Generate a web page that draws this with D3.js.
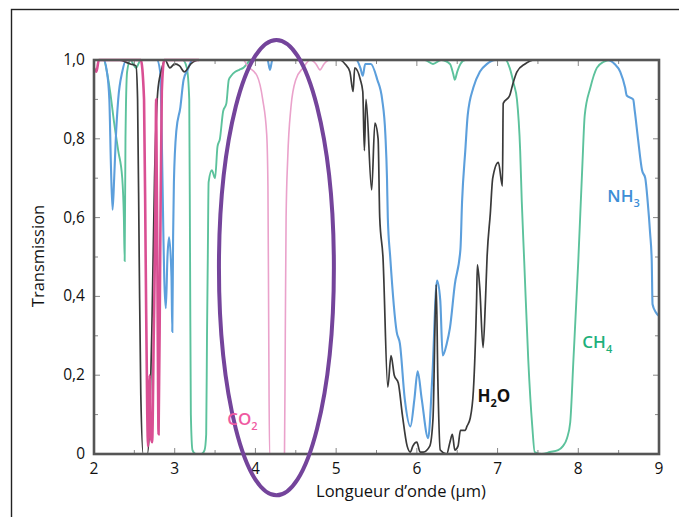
<!DOCTYPE html>
<html>
<head>
<meta charset="utf-8">
<script src="https://cdn.jsdelivr.net/npm/d3@7"></script>
<style>
  body { margin: 0; background: #fff; }
  svg text { font-family: "Open Sans", "Noto Sans", sans-serif; }
</style>
</head>
<body>
<svg id="chart" width="679" height="517"></svg>
<script>
// wavelength (µm), transmission
var h2o = [
  [2.0, 1.0], [2.3, 1.0], [2.45, 0.99], [2.52, 0.985], [2.54, 0.9], [2.56, 0.5], [2.58, 0.15],
  [2.61, 0.0], [2.66, 0.0], [2.69, 0.08], [2.72, 0.35], [2.75, 0.7], [2.79, 0.92], [2.83, 0.97],
  [2.88, 1.0], [2.94, 0.98], [3.0, 0.99], [3.06, 0.985], [3.12, 0.97], [3.2, 0.99], [3.3, 1.0],
  [5.05, 1.0], [5.11, 0.99], [5.17, 0.97], [5.21, 0.92], [5.23, 0.98], [5.3, 0.95], [5.33, 0.92],
  [5.35, 0.77], [5.37, 0.9], [5.44, 0.67], [5.48, 0.84], [5.52, 0.8], [5.54, 0.6], [5.58, 0.5],
  [5.64, 0.17], [5.68, 0.25], [5.72, 0.2], [5.77, 0.18], [5.82, 0.1], [5.88, 0.02], [5.92, 0.005],
  [5.95, 0.02], [6.0, 0.03], [6.04, 0.005], [6.08, 0.005], [6.16, 0.02], [6.2, 0.09], [6.24, 0.43],
  [6.26, 0.19], [6.29, 0.01], [6.37, 0.0], [6.41, 0.03], [6.44, 0.05], [6.47, 0.01], [6.51, 0.02],
  [6.54, 0.06], [6.6, 0.06], [6.62, 0.07], [6.66, 0.09], [6.7, 0.16], [6.74, 0.39], [6.75, 0.48],
  [6.78, 0.42], [6.82, 0.27], [6.85, 0.39], [6.87, 0.5], [6.91, 0.61], [6.94, 0.7], [7.01, 0.74],
  [7.06, 0.68], [7.07, 0.89], [7.15, 0.91], [7.19, 0.94], [7.24, 0.97], [7.34, 0.99], [7.46, 1.0],
  [9.0, 1.0]
];

var co2 = [
  [2.0, 0.98], [2.03, 0.97], [2.06, 1.0], [2.58, 1.0], [2.62, 0.9], [2.64, 0.5], [2.66, 0.1],
  [2.67, 0.02], [2.69, 0.2], [2.7, 0.05], [2.72, 0.03], [2.74, 0.3], [2.76, 0.6], [2.77, 0.9],
  [2.79, 0.3], [2.8, 0.05], [2.82, 0.5], [2.84, 0.92], [2.87, 1.0], [3.3, 1.0],
  [3.85, 1.0], [3.9, 0.985], [4.02, 0.96], [4.09, 0.9], [4.14, 0.81], [4.155, 0.68], [4.165, 0.3],
  [4.175, 0.0], [4.36, 0.0], [4.37, 0.3], [4.38, 0.6], [4.4, 0.75], [4.44, 0.88], [4.5, 0.95],
  [4.59, 0.98], [4.68, 1.0], [4.75, 0.99], [4.8, 0.975], [4.85, 0.99], [4.92, 1.0], [9.0, 1.0]
];

var ch4 = [
  [2.0, 1.0], [2.12, 1.0], [2.16, 0.97], [2.2, 0.92], [2.25, 0.84], [2.3, 0.77], [2.35, 0.7],
  [2.37, 0.6], [2.38, 0.49], [2.39, 0.8], [2.41, 0.97], [2.45, 1.0], [2.52, 0.98], [2.58, 1.0],
  [3.1, 1.0], [3.15, 0.98], [3.18, 0.9], [3.19, 0.5], [3.2, 0.1], [3.22, 0.01], [3.26, 0.0],
  [3.33, 0.0], [3.37, 0.01], [3.39, 0.05], [3.4, 0.3], [3.41, 0.5], [3.42, 0.69], [3.46, 0.72],
  [3.5, 0.7], [3.53, 0.78], [3.56, 0.8], [3.6, 0.87], [3.64, 0.89], [3.67, 0.95], [3.7, 0.96],
  [3.75, 0.97], [3.8, 0.975], [3.85, 0.98], [3.95, 1.0], [6.1, 1.0], [6.2, 0.99], [6.3, 1.0],
  [6.41, 0.99], [6.45, 0.965], [6.47, 0.95], [6.5, 0.97], [6.54, 0.99], [6.6, 1.0],
  [7.1, 1.0], [7.15, 0.98], [7.2, 0.94], [7.24, 0.9], [7.28, 0.77], [7.3, 0.64], [7.33, 0.49],
  [7.38, 0.24], [7.43, 0.07], [7.46, 0.005], [7.55, 0.0], [7.65, 0.005], [7.75, 0.01], [7.81, 0.02],
  [7.86, 0.04], [7.9, 0.08], [7.94, 0.24], [8.0, 0.49], [8.05, 0.73], [8.08, 0.86], [8.15, 0.93],
  [8.23, 0.98], [8.31, 0.995], [8.4, 1.0], [9.0, 1.0]
];

var nh3 = [
  [2.0, 1.0], [2.12, 1.0], [2.16, 0.97], [2.19, 0.9], [2.21, 0.73], [2.23, 0.62], [2.25, 0.7],
  [2.27, 0.8], [2.3, 0.9], [2.35, 0.97], [2.4, 1.0], [2.78, 1.0], [2.82, 0.97], [2.84, 0.8],
  [2.86, 0.55], [2.87, 0.45], [2.89, 0.37], [2.91, 0.5], [2.93, 0.55], [2.96, 0.45], [2.97, 0.31],
  [2.98, 0.55], [2.99, 0.69], [3.02, 0.82], [3.07, 0.88], [3.11, 0.95], [3.16, 0.975], [3.22, 1.0],
  [4.15, 1.0], [4.18, 0.975], [4.21, 1.0], [5.25, 1.0], [5.3, 0.98], [5.33, 0.96], [5.36, 0.99],
  [5.43, 0.99], [5.51, 0.95], [5.57, 0.9], [5.61, 0.81], [5.63, 0.7], [5.64, 0.6], [5.67, 0.5],
  [5.75, 0.31], [5.79, 0.28], [5.85, 0.14], [5.92, 0.07], [5.97, 0.14], [6.01, 0.21], [6.06, 0.14],
  [6.14, 0.04], [6.19, 0.19], [6.25, 0.44], [6.29, 0.39], [6.32, 0.25], [6.37, 0.28], [6.41, 0.32],
  [6.47, 0.43], [6.54, 0.52], [6.56, 0.64], [6.6, 0.77], [6.63, 0.86], [6.7, 0.93], [6.78, 0.97],
  [6.87, 0.99], [6.97, 1.0], [8.36, 1.0], [8.45, 0.99], [8.52, 0.97], [8.58, 0.93], [8.6, 0.91],
  [8.68, 0.9], [8.7, 0.87], [8.74, 0.8], [8.79, 0.72], [8.83, 0.7], [8.86, 0.64], [8.89, 0.56],
  [8.91, 0.49], [8.92, 0.38], [8.96, 0.36], [9.0, 0.35]
];

var xTicks = [2, 3, 4, 5, 6, 7, 8, 9];
var yTicks = [0, 0.2, 0.4, 0.6, 0.8, 1.0];
var yTickLabels = ["0", "0,2", "0,4", "0,6", "0,8", "1,0"];

// gas labels: name, subscript, wavelength, transmission
var gasLabels = [
  ["NH", "3", 8.36, 0.64, "#3d8ed6", 600],
  ["CH", "4", 8.05, 0.27, "#1db07b", 600],
  ["H", "2", 6.75, 0.132, "#111", 700, "O"],
  ["CO", "2", 3.65, 0.074, "#ef5aa1", 600]
];

// highlight ellipse around the CO2 band (centre and radii in data units)
var ring = { cx: 4.26, cy: 0.473, rx: 0.712, ry: 0.578 };

var svg = d3.select("#chart");

var x = d3.scaleLinear().domain([2, 9]).range([94, 659]);
var y = d3.scaleLinear().domain([0, 1]).range([454, 60]);

// outer frame
svg.append("rect")
  .attr("x", 11.5).attr("y", 9.5)
  .attr("width", 700).attr("height", 600)
  .attr("fill", "none").attr("stroke", "#222").attr("stroke-width", 1.4);

var line = d3.line()
  .x(function (d) { return x(d[0]); })
  .y(function (d) { return y(d[1]); })
  .curve(d3.curveMonotoneX);

var plot = svg.append("g");

plot.append("path").datum(ch4)
  .attr("fill", "none").attr("stroke", "#5cc29c").attr("stroke-width", 1.9).attr("d", line);

plot.append("path").datum(co2.filter(function (d) { return d[0] >= 3.3; }))
  .attr("fill", "none").attr("stroke", "#eaa2cb").attr("stroke-width", 1.6).attr("d", line);

plot.append("path").datum(nh3)
  .attr("fill", "none").attr("stroke", "#5c9fdc").attr("stroke-width", 2.1).attr("d", line);

plot.append("path").datum(h2o)
  .attr("fill", "none").attr("stroke", "#3a3a3a").attr("stroke-width", 1.7).attr("d", line);

plot.append("path").datum(co2.filter(function (d) { return d[0] <= 3.3; }))
  .attr("fill", "none").attr("stroke", "#d94f93").attr("stroke-width", 2.6).attr("d", line);

// ticks inside the frame
var minorX = d3.range(2, 9.01, 0.5);
var minorY = d3.range(0, 1.001, 0.1);
var tk = svg.append("g").attr("stroke", "#888").attr("stroke-width", 1);

minorX.forEach(function (v) {
  var len = Math.abs(v - Math.round(v)) < 0.01 ? 6 : 4;
  tk.append("line").attr("x1", x(v)).attr("x2", x(v)).attr("y1", y(0)).attr("y2", y(0) - len);
  tk.append("line").attr("x1", x(v)).attr("x2", x(v)).attr("y1", y(1)).attr("y2", y(1) + len);
});
minorY.forEach(function (v, i) {
  var len = i % 2 == 0 ? 6 : 4;
  tk.append("line").attr("x1", x(2)).attr("x2", x(2) + len).attr("y1", y(v)).attr("y2", y(v));
  tk.append("line").attr("x1", x(9)).attr("x2", x(9) - len).attr("y1", y(v)).attr("y2", y(v));
});

// plot frame
svg.append("rect")
  .attr("x", x(2)).attr("y", y(1))
  .attr("width", x(9) - x(2)).attr("height", y(0) - y(1))
  .attr("fill", "none").attr("stroke", "#555").attr("stroke-width", 2.6);

// tick labels
svg.append("g").selectAll("text")
  .data(xTicks).enter().append("text")
  .attr("x", function (d) { return x(d); })
  .attr("y", 474)
  .attr("text-anchor", "middle")
  .attr("font-size", 15.5)
  .attr("fill", "#111")
  .text(function (d) { return d; });

svg.append("g").selectAll("text")
  .data(yTicks).enter().append("text")
  .attr("x", 85)
  .attr("y", function (d) { return y(d) + 5; })
  .attr("text-anchor", "end")
  .attr("font-size", 15.5)
  .attr("fill", "#111")
  .text(function (d, i) { return yTickLabels[i]; });

// axis titles
svg.append("text")
  .attr("x", 401).attr("y", 497)
  .attr("text-anchor", "middle")
  .attr("font-size", 16.5)
  .attr("fill", "#111")
  .text("Longueur d\u2019onde (\u00b5m)");

svg.append("text")
  .attr("transform", "translate(44,256) rotate(-90)")
  .attr("text-anchor", "middle")
  .attr("font-size", 16.5)
  .attr("fill", "#111")
  .text("Transmission");

// highlight ring
svg.append("ellipse")
  .attr("cx", x(ring.cx)).attr("cy", y(ring.cy))
  .attr("rx", x(ring.cx + ring.rx) - x(ring.cx))
  .attr("ry", y(ring.cy - ring.ry) - y(ring.cy))
  .attr("fill", "none").attr("stroke", "#74449b").attr("stroke-width", 4);

// gas labels
gasLabels.forEach(function (g) {
  var t = svg.append("text")
    .attr("x", x(g[2])).attr("y", y(g[3]))
    .attr("font-size", 17)
    .attr("font-weight", g[5])
    .attr("fill", g[4]);
  t.append("tspan").text(g[0]);
  t.append("tspan").attr("font-size", 11).attr("dy", 5).text(g[1]);
  if (g[6]) t.append("tspan").attr("dy", -5).text(g[6]);
});
</script>
</body>
</html>
